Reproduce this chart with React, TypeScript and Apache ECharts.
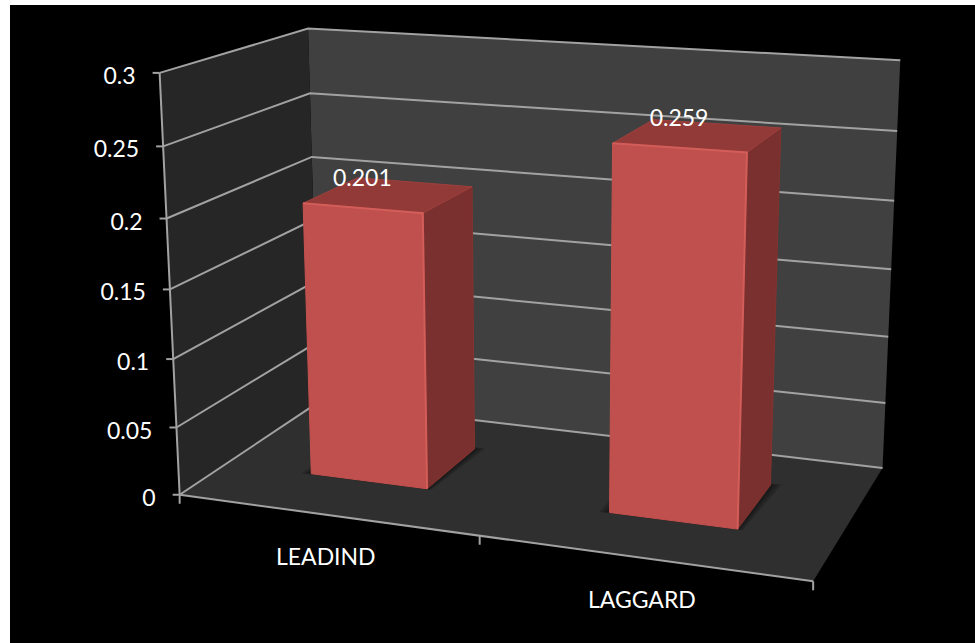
import React, { useEffect, useRef } from 'react';
import * as echarts from 'echarts';

// ---------------- data ----------------
const categories = ['LEADIND', 'LAGGARD'];
const values = [0.201, 0.259];
const yTicks = [0, 0.05, 0.1, 0.15, 0.2, 0.25, 0.3];
const yMin = 0;
const yMax = 0.3;
const yStep = 0.05;

// ---------------- camera (box corner anchors in page px) ----------------
// [X, Y, Z, screenX, screenY]; X: category axis 0..1, Y: value axis 0..1, Z: depth 0 (front)..1 (back)
const ANCHORS: number[][] = [
  [0, 0, 0, 180, 495],
  [0, 1, 0, 160, 73],
  [0, 1, 1, 308, 29],
  [1, 1, 1, 900, 60],
  [1, 0, 1, 882, 469],
  [1, 0, 0, 813, 580],
  [0, 0, 1, 319, 401],
  [0.5, 0, 0, 480, 537],
  [0, 0.5, 0, 169, 289],
  [1, 0.5, 1, 892, 269],
];

const BAR_RATIO = 0.4; // bar width / category band
const BAR_Z0 = 0.315;
const BAR_Z1 = 0.72;
const FONT = 'Lato, "Open Sans", sans-serif';
const GRID_COLOR = '#a2a2a2';

function fitProjection(pts: number[][]): number[] {
  const n = 11;
  const M: number[][] = Array.from({ length: n }, () => new Array(n + 1).fill(0));
  const add = (r: number[], b: number) => {
    for (let i = 0; i < n; i++) {
      for (let j = 0; j < n; j++) M[i][j] += r[i] * r[j];
      M[i][n] += r[i] * b;
    }
  };
  for (const [X, Y, Z, u, v] of pts) {
    add([X, Y, Z, 1, 0, 0, 0, 0, -u * X, -u * Y, -u * Z], u);
    add([0, 0, 0, 0, X, Y, Z, 1, -v * X, -v * Y, -v * Z], v);
  }
  for (let c = 0; c < n; c++) {
    let p = c;
    for (let r = c + 1; r < n; r++) if (Math.abs(M[r][c]) > Math.abs(M[p][c])) p = r;
    [M[c], M[p]] = [M[p], M[c]];
    for (let r = 0; r < n; r++) {
      if (r === c) continue;
      const f = M[r][c] / M[c][c];
      for (let k = c; k <= n; k++) M[r][k] -= f * M[c][k];
    }
  }
  return M.map((row, i) => row[n] / row[i]);
}

const m = fitProjection(ANCHORS);
const P = (X: number, Y: number, Z: number): number[] => {
  const w = m[8] * X + m[9] * Y + m[10] * Z + 1;
  return [
    (m[0] * X + m[1] * Y + m[2] * Z + m[3]) / w,
    (m[4] * X + m[5] * Y + m[6] * Z + m[7]) / w,
  ];
};

const normX = (rect: any, px: number) => (px - rect.x) / rect.width;
const normY = (rect: any, py: number) => (rect.y + rect.height - py) / rect.height;

export default function App() {
  const ref = useRef<HTMLDivElement>(null);
  useEffect(() => {
    if (!ref.current) return;
    const chart = echarts.init(ref.current, undefined, { renderer: 'svg' });

    const option: any = {
      animation: false,
      backgroundColor: 'transparent',
      graphic: [
        { type: 'rect', z: -10, shape: { x: 10, y: 5, width: 965, height: 638 }, style: { fill: '#000000' } },
      ],
      grid: { left: 0, top: 0, width: 100, height: 100 },
      xAxis: { type: 'category', data: categories, show: false },
      yAxis: { type: 'value', min: yMin, max: yMax, interval: yStep, show: false },
      series: [
        {
          // walls & floor
          type: 'custom',
          z: 1,
          clip: false,
          silent: true,
          data: [[0, yMin]],
          renderItem: (params: any, api: any) => {
            const rect = params.coordSys;
            const n = categories.length;
            const bw = api.size([1, 0])[0];
            const children: any[] = [
              { type: 'polygon', shape: { points: [P(0, 0, 1), P(1, 0, 1), P(1, 1, 1), P(0, 1, 1)] }, style: { fill: '#404040' } },
              { type: 'polygon', shape: { points: [P(0, 0, 0), P(0, 0, 1), P(0, 1, 1), P(0, 1, 0)] }, style: { fill: '#262626' } },
              { type: 'polygon', shape: { points: [P(0, 0, 0), P(1, 0, 0), P(1, 0, 1), P(0, 0, 1)] }, style: { fill: '#2f2f2f' } },
            ];
            const a = P(0, 0, 0), b = P(0, 1, 0);
            children.push({ type: 'line', shape: { x1: a[0], y1: a[1], x2: b[0], y2: b[1] }, style: { stroke: GRID_COLOR, lineWidth: 2 } });
            const f1 = P(1, 0, 0);
            children.push({ type: 'line', shape: { x1: a[0], y1: a[1], x2: f1[0], y2: f1[1] }, style: { stroke: GRID_COLOR, lineWidth: 2 } });
            for (let i = 0; i <= n; i++) {
              const px = api.coord([Math.min(i, n - 1), yMin])[0] + (i === n ? bw / 2 : -bw / 2);
              const t = P(normX(rect, px), 0, 0);
              children.push({ type: 'line', shape: { x1: t[0], y1: t[1], x2: t[0], y2: t[1] + 9 }, style: { stroke: GRID_COLOR, lineWidth: 2 } });
            }
            return { type: 'group', children };
          },
        },
        {
          // value gridlines and tick labels
          type: 'custom',
          z: 2,
          clip: false,
          silent: true,
          data: yTicks.map((v) => [0, v]),
          renderItem: (params: any, api: any) => {
            const rect = params.coordSys;
            const v = api.value(1);
            const Y = normY(rect, api.coord([0, v])[1]);
            const f = P(0, Y, 0), bl = P(0, Y, 1), br = P(1, Y, 1);
            const ls = { stroke: GRID_COLOR, lineWidth: 2 };
            return {
              type: 'group',
              children: [
                { type: 'polyline', shape: { points: [f, bl, br] }, style: { ...ls, fill: 'none' } },
                { type: 'line', shape: { x1: f[0] - 7, y1: f[1], x2: f[0], y2: f[1] }, style: ls },
                {
                  type: 'text',
                  style: {
                    text: String(yTicks[params.dataIndex]),
                    x: f[0] - 24,
                    y: f[1] + 2,
                    align: 'right',
                    verticalAlign: 'middle',
                    fill: '#ffffff',
                    fontSize: 23,
                    fontFamily: FONT,
                  },
                },
              ],
            };
          },
        },
        {
          // bars
          type: 'custom',
          z: 3,
          clip: false,
          silent: true,
          data: values.map((v, i) => [i, v]),
          renderItem: (params: any, api: any) => {
            const rect = params.coordSys;
            const top = api.coord([api.value(0), api.value(1)]);
            const bw = api.size([1, 0])[0];
            const xc = normX(rect, top[0]);
            const hw = (bw * BAR_RATIO) / 2 / rect.width;
            const x0 = xc - hw, x1 = xc + hw;
            const yt = normY(rect, top[1]);
            const z0 = BAR_Z0, z1 = BAR_Z1;
            const shadows: any[] = [0.016, 0.011, 0.006].map((e) => ({
              type: 'polygon',
              shape: { points: [P(x0 - e, 0, z0 - e * 0.4), P(x1 + e * 0.5, 0, z0 - e * 0.4), P(x1 + e, 0, z1 + e), P(x0 - e, 0, z1 + e)] },
              style: { fill: 'rgba(0,0,0,0.17)' },
            }));
            const front = [P(x0, 0, z0), P(x1, 0, z0), P(x1, yt, z0), P(x0, yt, z0)];
            const side = [P(x1, 0, z0), P(x1, 0, z1), P(x1, yt, z1), P(x1, yt, z0)];
            const topF = [P(x0, yt, z0), P(x1, yt, z0), P(x1, yt, z1), P(x0, yt, z1)];
            const ftl = P(x0, yt, z0), ftr = P(x1, yt, z0), fbr = P(x1, 0, z0);
            const lab = P(xc, yt, z0);
            return {
              type: 'group',
              children: [
                ...shadows,
                { type: 'polygon', shape: { points: side }, style: { fill: '#7a302e', stroke: '#84332f', lineWidth: 1 } },
                { type: 'polygon', shape: { points: topF }, style: { fill: '#923a38', stroke: '#9e403d', lineWidth: 1 } },
                { type: 'polygon', shape: { points: front }, style: { fill: '#c0504d', stroke: '#c4524f', lineWidth: 1 } },
                { type: 'polyline', shape: { points: [ftl, ftr, fbr] }, style: { stroke: '#d25d59', lineWidth: 2, fill: 'none' } },
                {
                  type: 'text',
                  style: {
                    text: String(values[params.dataIndex]),
                    x: lab[0],
                    y: lab[1] - 31,
                    align: 'center',
                    verticalAlign: 'middle',
                    fill: '#ffffff',
                    fontSize: 23,
                    fontFamily: FONT,
                  },
                },
              ],
            };
          },
        },
        {
          // category labels
          type: 'custom',
          z: 4,
          clip: false,
          silent: true,
          data: categories.map((c, i) => [i, yMin]),
          renderItem: (params: any, api: any) => {
            const rect = params.coordSys;
            const c = api.coord([api.value(0), yMin]);
            const p = P(normX(rect, c[0]), 0, 0);
            return {
              type: 'text',
              style: {
                text: categories[params.dataIndex],
                x: p[0],
                y: p[1] + 41,
                align: 'center',
                verticalAlign: 'middle',
                fill: '#ffffff',
                fontSize: 23,
                fontFamily: FONT,
              },
            };
          },
        },
      ],
    };
    chart.setOption(option);
    return () => chart.dispose();
  }, []);

  return (
    <div style={{ position: 'fixed', left: 0, top: 0, width: 975, height: 643, background: '#ffffff' }}>
      <div ref={ref} style={{ width: 975, height: 643 }} />
    </div>
  );
}
